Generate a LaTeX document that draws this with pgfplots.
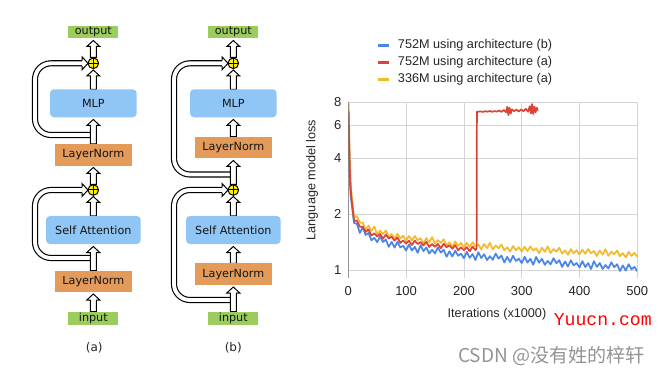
\documentclass[border=0pt]{standalone}
\usepackage{pgfplots}
\pgfplotsset{compat=1.18}
\usepackage{fontspec}
\setmainfont{Liberation Sans}
\newfontfamily\dv{DejaVu Sans}
\newfontfamily\mono{Liberation Mono}
\newfontfamily\cjk{Noto Sans CJK SC}
\definecolor{sblue}{HTML}{4A86E8}
\definecolor{sred}{HTML}{DB4437}
\definecolor{syel}{HTML}{F3BA30}
\definecolor{bxblue}{HTML}{90C6F6}
\definecolor{bxor}{HTML}{E49A58}
\definecolor{bxgr}{HTML}{9CCB5E}
\definecolor{pyel}{HTML}{FFEE10}
\newcommand{\harrow}[3]{% x, ybottom, ytip (px, y down)
  \filldraw[fill=white,draw=black,line width=0.75pt,line join=miter]
   ({#1-3},#2) -- ({#1-3},{#3+6}) -- ({#1-6.5},{#3+6}) -- (#1,#3) -- ({#1+6.5},{#3+6}) -- ({#1+3},{#3+6}) -- ({#1+3},#2) -- cycle;}
\newcommand{\plus}[2]{%
  \filldraw[fill=pyel,draw=black,line width=0.75pt] (#1,#2) circle[radius=5.3];
  \draw[line width=0.75pt] ({#1-5.3},#2) -- ({#1+5.3},#2) (#1,{#2-5.3}) -- (#1,{#2+5.3});}
\newcommand{\resid}[5]{% xstart, ystart, xleft, ytarget, xtip
  \draw[line width=4.6pt, rounded corners=12pt] (#1,#2) -- (#3,#2) -- (#3,#4) -- ({#5-6},#4);
  \draw[white,line width=2.9pt, rounded corners=12pt] (#1,#2) -- (#3,#2) -- (#3,#4) -- ({#5-5.5},#4);
  \filldraw[fill=white,draw=black,line width=0.75pt] ({#5-6},{#4-2.6}) -- ({#5-6},{#4-6.5}) -- (#5,#4) -- ({#5-6},{#4+6.5}) -- ({#5-6},{#4+2.6});}
\newcommand{\bx}[6]{% x1,y1,x2,y2,color,text
  \fill[#5] (#1,#2) rectangle (#3,#4);
  \node[font=\dv\fontsize{8.4}{10}\selectfont, text=black!92, inner sep=0pt] at ({(#1+#3)/2},{(#2+#4)/2}) {#6};}
\newcommand{\rbx}[6]{% rounded box
  \fill[#5, rounded corners=3pt] (#1,#2) rectangle (#3,#4);
  \node[font=\dv\fontsize{8.4}{10}\selectfont, text=black!92, inner sep=0pt] at ({(#1+#3)/2},{(#2+#4)/2}) {#6};}
\begin{document}
\begin{tikzpicture}
\useasboundingbox (0pt,0pt) rectangle (498pt,-280.5pt);
\fill[white] (0pt,0pt) rectangle (498pt,-280.5pt);
\begin{scope}[x=0.75pt,y=-0.75pt]
% ---------- diagram (a) ----------
\resid{93.3}{135}{35}{63.3}{88}
\resid{93.3}{258}{35}{190}{88}
\bx{68.3}{26}{118.3}{38.3}{bxgr}{output}
\harrow{93.3}{57.5}{40.5}
\plus{93.3}{63.3}
\harrow{93.3}{89.3}{70}
\rbx{50}{89.3}{136.7}{117.3}{bxblue}{MLP}
\harrow{93.3}{144}{119.5}
\bx{55}{144}{131.7}{165.7}{bxor}{LayerNorm}
\harrow{93.3}{184.5}{167.5}
\plus{93.3}{190}
\harrow{93.3}{216}{196.5}
\rbx{46}{216}{140.7}{244}{bxblue}{Self Attention}
\harrow{93.3}{270.7}{246.5}
\bx{55}{270.7}{131.7}{292.3}{bxor}{LayerNorm}
\harrow{93.3}{311.7}{294}
\bx{68.3}{311.7}{118.3}{325}{bxgr}{input}
\node[font=\dv\fontsize{9}{11}\selectfont, text=black!85] at (94.3,347.7) {(a)};
% ---------- diagram (b) ----------
\resid{233.3}{174.5}{174}{63.3}{228}
\resid{233.3}{300}{174}{190}{228}
\bx{208.3}{26}{258.3}{38.3}{bxgr}{output}
\harrow{233.3}{57.5}{40.5}
\plus{233.3}{63.3}
\harrow{233.3}{89.3}{70}
\rbx{190}{89.3}{276.7}{117.3}{bxblue}{MLP}
\harrow{233.3}{136.7}{119.5}
\bx{195}{136.7}{271.7}{158.3}{bxor}{LayerNorm}
\harrow{233.3}{184.5}{160.5}
\plus{233.3}{190}
\harrow{233.3}{216}{196.5}
\rbx{186}{216}{280.7}{244}{bxblue}{Self Attention}
\harrow{233.3}{263.3}{246.5}
\bx{195}{263.3}{271.7}{285}{bxor}{LayerNorm}
\harrow{233.3}{311.7}{287}
\bx{208.3}{311.7}{258.3}{325}{bxgr}{input}
\node[font=\dv\fontsize{9}{11}\selectfont, text=black!85] at (233.3,347.7) {(b)};
% ---------- watermarks ----------
\node[font=\mono\fontsize{13.6}{15}\selectfont, text=red, inner sep=0pt] at (602.8,319.5) {Yuucn.com};
\node[font=\cjk\fontsize{14.3}{16}\selectfont, text=black!42, inner sep=0pt, anchor=west] at (458,355.7) {CSDN @没有姓的梓轩};
\end{scope}
% ---------- chart ----------
\begin{axis}[
  at={(261.225pt,-208.5pt)}, anchor=south west,
  scale only axis, width=216.75pt, height=132pt,
  xmin=0, xmax=500, ymin=0.91, ymax=8,
  ymode=log, log basis y=2,
  ytick={1,2,4,6,8}, yticklabels={1,2,4,6,8},
  xtick={0,100,200,300,400,500},
  /pgf/number format/assume math mode=true,
  grid=major, major grid style={draw=black!17, line width=0.6pt},
  axis line style={draw=none},
  major tick length=0pt,
  tick label style={font=\fontsize{9.75}{11}\selectfont, text=black!85},
  xticklabel style={yshift=-2.5pt},
  yticklabel style={xshift=-1.7pt},
  xlabel={Iterations (x1000)}, ylabel={Language model loss},
  label style={font=\fontsize{9.5}{11}\selectfont, text=black!85},
  xlabel style={at={(axis description cs:0.5145,-0.206)}, anchor=center},
  ylabel style={at={(axis description cs:-0.1256,0.557)}, anchor=center},
  legend style={at={(axis description cs:0.0958,1.358)}, anchor=north west, draw=none, fill=none,
    font=\fontsize{9.5}{11}\selectfont, text=black!85, inner sep=0pt,
    nodes={inner sep=0pt, text height=7pt, text depth=2pt}, row sep=3.75pt, column sep=5.5pt},
  legend cell align=left,
  legend image code/.code={\draw[line width=2pt] (0pt,0pt) -- (8.8pt,0pt);},
  every axis plot/.append style={line width=1.3pt, line join=round},
]
\addlegendimage{sblue}\addlegendentry{752M using architecture (b)}
\addlegendimage{sred}\addlegendentry{752M using architecture (a)}
\addlegendimage{syel}\addlegendentry{336M using architecture (a)}
\addplot[sblue, forget plot] coordinates {(0.5,6.5)(1,5.2)(2,3.6)(3,2.9)(4,2.55)(5,2.392)(10,1.795)(15,1.775)(20,1.587)(25,1.701)(30,1.548)(35,1.586)(40,1.450)(45,1.495)(50,1.416)(55,1.519)(60,1.420)(65,1.463)(70,1.337)(75,1.422)(80,1.325)(85,1.423)(90,1.328)(95,1.355)(100,1.277)(105,1.377)(110,1.278)(115,1.338)(120,1.241)(125,1.365)(130,1.268)(135,1.327)(140,1.231)(145,1.289)(150,1.232)(155,1.327)(160,1.245)(165,1.290)(170,1.184)(175,1.265)(180,1.185)(185,1.277)(190,1.198)(195,1.228)(200,1.162)(205,1.255)(210,1.167)(215,1.223)(220,1.136)(225,1.252)(230,1.165)(235,1.221)(240,1.135)(245,1.190)(250,1.140)(255,1.230)(260,1.156)(265,1.199)(270,1.103)(275,1.181)(280,1.108)(285,1.197)(290,1.124)(295,1.155)(300,1.094)(305,1.182)(310,1.100)(315,1.154)(320,1.072)(325,1.181)(330,1.100)(335,1.153)(340,1.071)(345,1.124)(350,1.077)(355,1.162)(360,1.093)(365,1.134)(370,1.043)(375,1.117)(380,1.048)(385,1.133)(390,1.064)(395,1.094)(400,1.037)(405,1.121)(410,1.043)(415,1.094)(420,1.017)(425,1.121)(430,1.044)(435,1.094)(440,1.018)(445,1.068)(450,1.023)(455,1.105)(460,1.040)(465,1.079)(470,0.993)(475,1.063)(480,0.998)(485,1.079)(490,1.014)(495,1.043)(500,0.989)};
\addplot[syel, forget plot] coordinates {(0.5,8)(1,6.8)(2,4.6)(3,3.6)(4,3.0)(5,2.678)(10,1.931)(15,1.955)(20,1.802)(25,1.805)(30,1.651)(35,1.741)(40,1.627)(45,1.717)(50,1.562)(55,1.630)(60,1.570)(65,1.637)(70,1.515)(75,1.566)(80,1.476)(85,1.572)(90,1.484)(95,1.532)(100,1.445)(105,1.529)(110,1.448)(115,1.531)(120,1.451)(125,1.489)(130,1.396)(135,1.491)(140,1.413)(145,1.508)(150,1.387)(155,1.452)(160,1.404)(165,1.468)(170,1.364)(175,1.414)(180,1.338)(185,1.430)(190,1.354)(195,1.404)(200,1.329)(205,1.407)(210,1.336)(215,1.414)(220,1.342)(225,1.380)(230,1.295)(235,1.386)(240,1.315)(245,1.405)(250,1.295)(255,1.358)(260,1.315)(265,1.377)(270,1.281)(275,1.331)(280,1.261)(285,1.350)(290,1.281)(295,1.330)(300,1.261)(305,1.337)(310,1.270)(315,1.345)(320,1.278)(325,1.315)(330,1.235)(335,1.323)(340,1.256)(345,1.344)(350,1.239)(355,1.301)(360,1.260)(365,1.322)(370,1.230)(375,1.279)(380,1.213)(385,1.300)(390,1.234)(395,1.282)(400,1.217)(405,1.291)(410,1.226)(415,1.299)(420,1.235)(425,1.270)(430,1.193)(435,1.278)(440,1.214)(445,1.299)(450,1.198)(455,1.258)(460,1.219)(465,1.278)(470,1.190)(475,1.237)(480,1.174)(485,1.258)(490,1.195)(495,1.241)(500,1.179)};
\addplot[sred, forget plot] coordinates {(0.5,7.2)(1,6.0)(2,4.2)(3,3.2)(4,2.8)(5,2.499)(10,1.843)(15,1.844)(20,1.713)(25,1.714)(30,1.607)(35,1.658)(40,1.537)(45,1.581)(50,1.519)(55,1.568)(60,1.478)(65,1.556)(70,1.483)(75,1.515)(80,1.443)(85,1.503)(90,1.403)(95,1.447)(100,1.392)(105,1.443)(110,1.367)(115,1.446)(120,1.384)(125,1.420)(130,1.359)(135,1.423)(140,1.335)(145,1.384)(150,1.338)(155,1.387)(160,1.313)(165,1.389)(170,1.330)(175,1.364)(180,1.305)(185,1.366)(190,1.281)(195,1.329)(200,1.284)(205,1.333)(210,1.265)(215,1.340)(220,1.285)(222,1.31)(222.5,7.10)(225,7.10)(229,7.12)(233,7.08)(237,7.14)(241,7.10)(245,7.16)(249,7.09)(253,7.15)(257,7.11)(261,7.20)(265,7.08)(269,7.25)(273,7.05)(275,7.55)(277,6.80)(279,7.45)(281,6.95)(283,7.30)(287,7.15)(291,7.28)(295,7.12)(299,7.30)(303,7.14)(307,7.35)(311,7.10)(314,7.60)(316,6.95)(318,7.80)(320,6.90)(322,7.55)(324,7.05)(326,7.45)(328,7.20)};
\draw[black!55, line width=0.75pt] (rel axis cs:0,0) -- (rel axis cs:0,1);
\end{axis}
\end{tikzpicture}
\end{document}
